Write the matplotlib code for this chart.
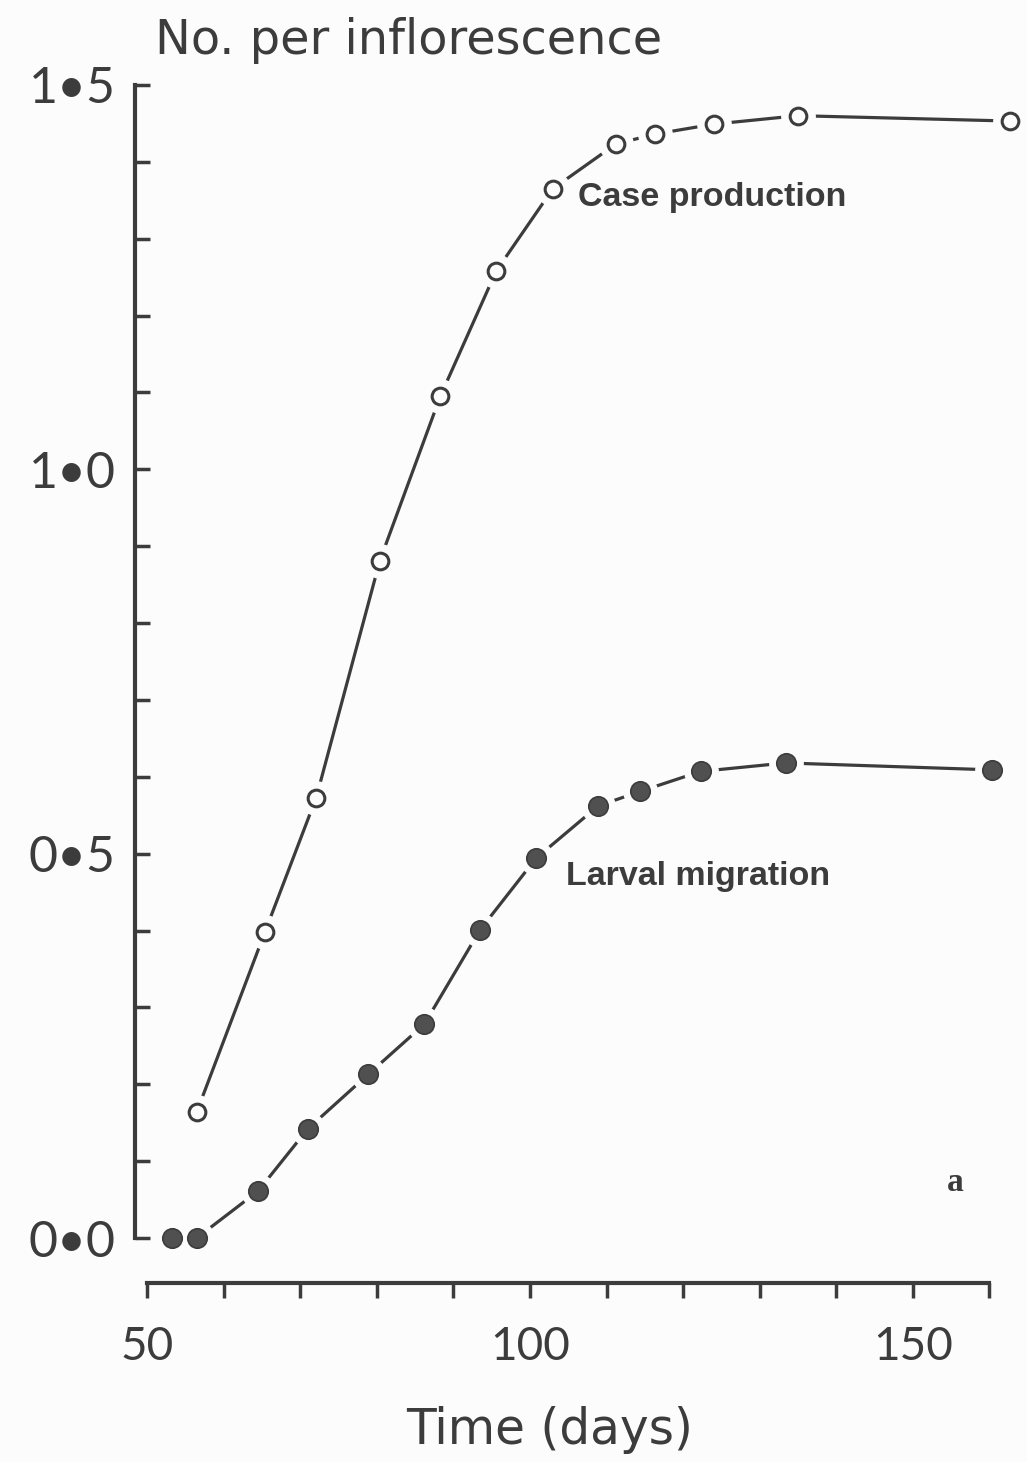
import matplotlib.pyplot as plt
from matplotlib.ticker import MultipleLocator

days_case = [56.5, 65.4, 72.1, 80.4, 88.3, 95.6, 103.0, 111.2, 116.3, 124.0, 135.0, 162.7]
case_prod = [0.164, 0.398, 0.573, 0.881, 1.095, 1.258, 1.365, 1.423, 1.436, 1.449, 1.460, 1.453]

days_larv = [53.3, 56.5, 64.5, 71.0, 78.9, 86.2, 93.5, 100.8, 108.9, 114.4, 122.3, 133.4, 160.3]
larv_mig = [0.0, 0.0, 0.061, 0.142, 0.213, 0.278, 0.401, 0.494, 0.562, 0.581, 0.607, 0.618, 0.609]

ytick_vals = [0.0, 0.5, 1.0, 1.5]
ytick_text = ['0•0', '0•5', '1•0', '1•5']
xtick_vals = [50, 100, 150]

ink = '#3c3c3c'
bg = '#fcfcfc'
plt.rcParams['font.family'] = ['Lato', 'DejaVu Sans']

fig = plt.figure(figsize=(10.27, 14.62), dpi=100, facecolor=bg)
ax = fig.add_axes([0.1282, 0.1164, 0.8651, 0.8518])
ax.set_facecolor(bg)
ax.set_xlim(48, 164)
ax.set_ylim(-0.07, 1.55)

# lines, with white halos so the line breaks round each point
ax.plot(days_case, case_prod, color=ink, lw=2.3, zorder=2, clip_on=False)
ax.plot(days_larv[1:], larv_mig[1:], color=ink, lw=2.3, zorder=2, clip_on=False)
ax.plot(days_case, case_prod, 'o', ms=24, color=bg, mec=bg, zorder=3, clip_on=False)
ax.plot(days_larv, larv_mig, 'o', ms=24, color=bg, mec=bg, zorder=3, clip_on=False)
ax.plot(days_case, case_prod, 'o', ms=12, mfc=bg, mec=ink, mew=2.2, zorder=4, clip_on=False)
ax.plot(days_larv, larv_mig, 'o', ms=14, mfc='#505050', mec=ink, mew=1.2, zorder=4, clip_on=False)

for s in ['top', 'right']:
    ax.spines[s].set_visible(False)
ax.spines['left'].set_position(('data', 48.43))
ax.spines['bottom'].set_position(('data', -0.0585))
ax.spines['left'].set_bounds(0, 1.5)
ax.spines['bottom'].set_bounds(50, 160)
for s in ['left', 'bottom']:
    ax.spines[s].set_linewidth(3)
    ax.spines[s].set_color(ink)

ax.set_yticks(ytick_vals)
ax.set_yticklabels(ytick_text)
ax.yaxis.set_minor_locator(MultipleLocator(0.1))
ax.set_xticks(xtick_vals)
ax.xaxis.set_minor_locator(MultipleLocator(10))
ax.tick_params(axis='y', which='both', direction='in', length=11, width=2.5,
               color=ink, labelcolor=ink, labelsize=36, pad=14)
ax.tick_params(axis='x', which='both', direction='out', length=11, width=2.5,
               color=ink, labelcolor=ink, labelsize=33, pad=20)

fig.text(550 / 1027, 1 - 1430 / 1462, 'Time (days)', fontsize=35, color=ink,
         family='DejaVu Sans', va='center', ha='center')
fig.text(155 / 1027, 1 - 40 / 1462, 'No. per inflorescence', fontsize=34.5,
         color=ink, family='DejaVu Sans', va='center', ha='left')

ax.text(106.3, 1.354, 'Case production', fontsize=24.5, fontweight='bold',
        family='Liberation Sans', color=ink, va='center', ha='left')
ax.text(104.7, 0.470, 'Larval migration', fontsize=24.5, fontweight='bold',
        family='Liberation Sans', color=ink, va='center', ha='left')
ax.text(155.5, 0.0716, 'a', fontsize=24, fontweight='bold',
        family='Liberation Serif', color=ink, va='center', ha='center')

fig.savefig('out.png', dpi=100, facecolor=bg)
